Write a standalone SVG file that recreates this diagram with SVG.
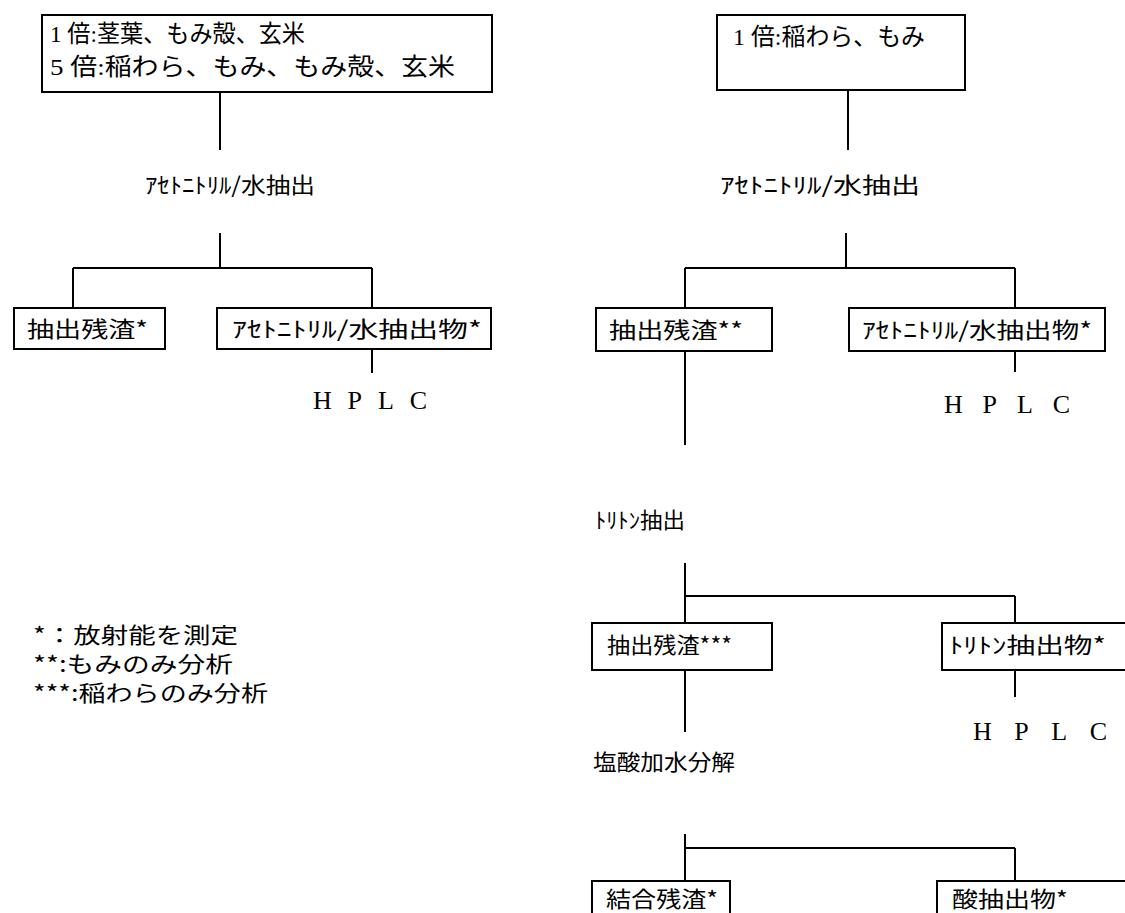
<svg xmlns="http://www.w3.org/2000/svg" width="1125" height="913" viewBox="0 0 1125 913">
<style>
.bg{fill:#fff}
.box{fill:#fff;stroke:#000;stroke-width:2}
.ln{fill:none;stroke:#000;stroke-width:2}
.t{font-family:"Noto Sans CJK JP","Liberation Sans",sans-serif;font-size:22px;fill:#000}
.s{font-family:"Liberation Serif","Noto Sans CJK JP",serif;font-size:24px;fill:#000}
.h{font-family:"Liberation Serif",serif;font-size:26px;fill:#000}
</style>
<rect class="bg" x="0" y="0" width="1125" height="913"/>
<g id="connectors">
<path class="ln" d="M220 92V150M220 233V268M73 268H372M73 268V308M372 268V308M372 349V373"/>
<path class="ln" d="M848 90V150M846 233V268M685 268H1015M685 268V308M1015 268V308M1015 351V372M685 351V445"/>
<path class="ln" d="M685 563V623M685 596H1015M1015 596V623M1015 670V697M685 670V732"/>
<path class="ln" d="M685 834V881M685 848H1015M1015 848V881"/>
</g>
<g id="n_left_top"><rect class="box" x="42" y="15" width="450" height="77"/>
<text class="s" x="50" y="42" textLength="255" lengthAdjust="spacingAndGlyphs">1 倍:茎葉、もみ殻、玄米</text>
<text class="s" x="50" y="75" textLength="405" lengthAdjust="spacingAndGlyphs">5 倍:稲わら、もみ、もみ殻、玄米</text></g>
<g id="n_right_top"><rect class="box" x="717" y="15" width="248" height="75"/>
<text class="s" x="733" y="45" textLength="192" lengthAdjust="spacingAndGlyphs">1 倍:稲わら、もみ</text></g>
<g id="l_step1"><text class="t" x="145" y="193" textLength="170" lengthAdjust="spacingAndGlyphs">ｱｾﾄﾆﾄﾘﾙ/水抽出</text></g>
<g id="r_step1"><text class="t" x="720" y="193" textLength="200" lengthAdjust="spacingAndGlyphs">ｱｾﾄﾆﾄﾘﾙ/水抽出</text></g>
<g id="l_res"><rect class="box" x="14" y="308" width="151" height="41"/>
<text class="t" x="27" y="337" textLength="121" lengthAdjust="spacingAndGlyphs">抽出残渣*</text></g>
<g id="l_ext"><rect class="box" x="217" y="308" width="274" height="41"/>
<text class="t" x="232" y="337" textLength="250" lengthAdjust="spacingAndGlyphs">ｱｾﾄﾆﾄﾘﾙ/水抽出物*</text></g>
<g id="l_hplc"><text class="h" x="313" y="409" textLength="114" lengthAdjust="spacing">HPLC</text></g>
<g id="r_res"><rect class="box" x="596" y="308" width="176" height="43"/>
<text class="t" x="609" y="338" textLength="134" lengthAdjust="spacingAndGlyphs">抽出残渣**</text></g>
<g id="r_ext"><rect class="box" x="849" y="308" width="256" height="43"/>
<text class="t" x="862" y="338" textLength="230" lengthAdjust="spacingAndGlyphs">ｱｾﾄﾆﾄﾘﾙ/水抽出物*</text></g>
<g id="r_hplc"><text class="h" x="944" y="413" textLength="126" lengthAdjust="spacing">HPLC</text></g>
<g id="r_step2"><text class="t" x="595" y="528" textLength="90" lengthAdjust="spacingAndGlyphs">ﾄﾘﾄﾝ抽出</text></g>
<g id="r_res2"><rect class="box" x="592" y="623" width="180" height="47"/>
<text class="t" x="607" y="653" textLength="125" lengthAdjust="spacingAndGlyphs">抽出残渣***</text></g>
<g id="r_triton"><rect class="box" x="942" y="623" width="190" height="47"/>
<text class="t" x="949" y="653" textLength="157" lengthAdjust="spacingAndGlyphs">ﾄﾘﾄﾝ抽出物*</text></g>
<g id="r_hplc2"><text class="h" x="973" y="740" textLength="134" lengthAdjust="spacing">HPLC</text></g>
<g id="r_step3"><text class="t" x="593" y="770" textLength="142" lengthAdjust="spacingAndGlyphs">塩酸加水分解</text></g>
<g id="r_bound"><rect class="box" x="592" y="881" width="138" height="40"/>
<text class="t" x="606" y="907" textLength="112" lengthAdjust="spacingAndGlyphs">結合残渣*</text></g>
<g id="r_acid"><rect class="box" x="937" y="881" width="195" height="40"/>
<text class="t" x="952" y="907" textLength="116" lengthAdjust="spacingAndGlyphs">酸抽出物*</text></g>
<g id="legend">
<text class="t" x="33" y="643" textLength="205" lengthAdjust="spacingAndGlyphs">*：放射能を測定</text>
<text class="t" x="33" y="672" textLength="200" lengthAdjust="spacingAndGlyphs">**:もみのみ分析</text>
<text class="t" x="33" y="701" textLength="235" lengthAdjust="spacingAndGlyphs">***:稲わらのみ分析</text>
</g>
</svg>
